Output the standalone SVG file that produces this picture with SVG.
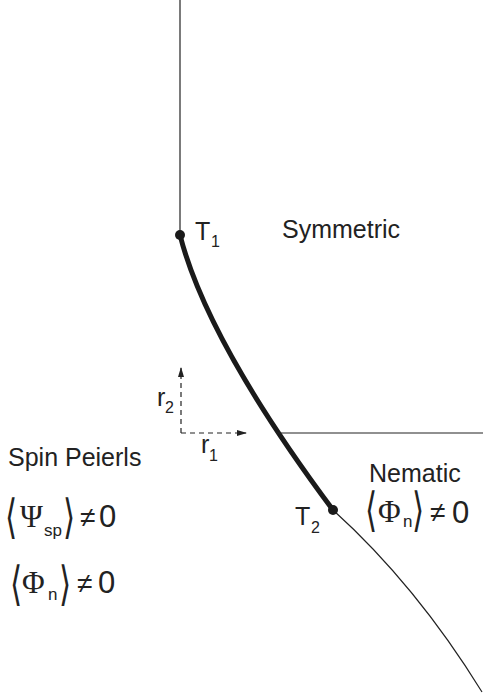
<svg xmlns="http://www.w3.org/2000/svg" width="483" height="698" viewBox="0 0 483 698">
<style>
.t{font-family:"Liberation Sans",Arial,sans-serif;font-size:25px;fill:#222}
.s{font-size:16px}
.ss{font-family:"Liberation Sans",Arial,sans-serif;font-size:17px;fill:#222}
.m{font-family:"Liberation Sans",Arial,sans-serif;font-size:31px;fill:#222}
.ne{font-family:"Liberation Sans",Arial,sans-serif;font-size:28px;fill:#222}
.g{font-family:"Liberation Serif","Times New Roman",serif;font-size:31px;fill:#222}
.b{font-family:"DejaVu Sans",sans-serif;font-size:26px;fill:#222}
.ln{fill:none;stroke:#222;stroke-width:1.2}
.thick{fill:none;stroke:#1a1a1a;stroke-width:5}
.dash{fill:none;stroke:#222;stroke-width:1.2;stroke-dasharray:5 4}
</style>
<defs>
<marker id="ah" markerWidth="10" markerHeight="8" refX="9" refY="4" orient="auto" markerUnits="userSpaceOnUse">
<path d="M0,1 L10,4 L0,7 z" fill="#222"/>
</marker>
</defs>
<g id="connectors">
<line class="ln" x1="180" y1="0" x2="180" y2="235"/>
<path class="thick" d="M180,235 Q207,341 333,510"/>
<path class="ln" d="M333,510 Q416,585 482,692"/>
<line class="ln" x1="276" y1="433" x2="483" y2="433"/>
<path class="dash" d="M181,433 L181,368" marker-end="url(#ah)"/>
<path class="dash" d="M181,433 L246,433" marker-end="url(#ah)"/>
</g>
<g id="T1">
<circle cx="180" cy="235" r="5" fill="#1a1a1a"/>
<text class="t" x="195" y="240">T<tspan class="s" x="211" y="247">1</tspan></text>
</g>
<g id="T2">
<circle cx="333" cy="510" r="5" fill="#1a1a1a"/>
<text class="t" x="295" y="525">T<tspan class="s" x="311" y="533">2</tspan></text>
</g>
<g id="symmetric">
<text class="t" x="282" y="238">Symmetric</text>
</g>
<g id="r-axes">
<text class="t" x="157" y="406">r<tspan class="s" x="165" y="413">2</tspan></text>
<text class="t" x="201" y="453">r<tspan class="s" x="209" y="461">1</tspan></text>
</g>
<g id="spin-peierls">
<text class="t" x="8" y="466">Spin Peierls</text>
<text class="b" transform="translate(5,533) scale(1.2,1.8)">⟨</text>
<text class="g" x="20" y="527">Ψ</text>
<text class="ss" x="44" y="536">sp</text>
<text class="b" transform="translate(63,533) scale(1.2,1.8)">⟩</text>
<text class="ne" x="80" y="527">≠</text>
<text class="m" x="99" y="527">0</text>
<text class="b" transform="translate(10,600) scale(1.2,1.8)">⟨</text>
<text class="g" x="22" y="593">Φ</text>
<text class="ss" x="48" y="600">n</text>
<text class="b" transform="translate(59,600) scale(1.2,1.8)">⟩</text>
<text class="ne" x="77" y="593">≠</text>
<text class="m" x="98" y="593">0</text>
</g>
<g id="nematic">
<text class="t" x="369" y="482">Nematic</text>
<text class="b" transform="translate(365,526) scale(1.2,1.8)">⟨</text>
<text class="g" x="378" y="522">Φ</text>
<text class="ss" x="403" y="527">n</text>
<text class="b" transform="translate(412,526) scale(1.2,1.8)">⟩</text>
<text class="ne" x="430" y="522">≠</text>
<text class="m" x="452" y="523">0</text>
</g>
</svg>
